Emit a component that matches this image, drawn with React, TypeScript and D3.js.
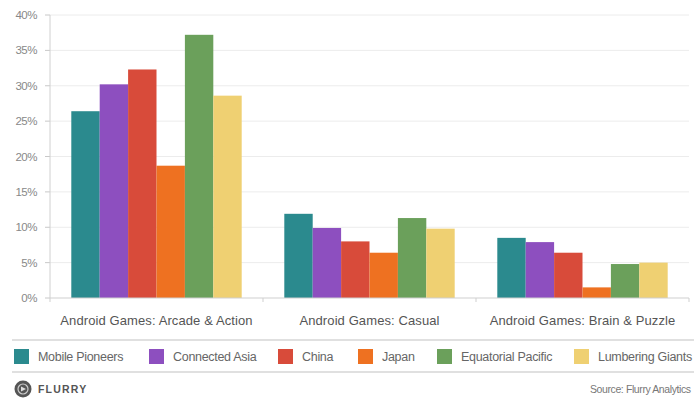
import React from "react";
import * as d3 from "d3";

const categories = [
  "Android Games: Arcade & Action",
  "Android Games: Casual",
  "Android Games: Brain & Puzzle",
];
const seriesNames = [
  "Mobile Pioneers",
  "Connected Asia",
  "China",
  "Japan",
  "Equatorial Pacific",
  "Lumbering Giants",
];
const seriesColors = ["#2b8a8e", "#8d4fbf", "#d84b3a", "#ee7121", "#6ba05b", "#efd072"];
const mobilePioneers = [26.4, 11.9, 8.5];
const connectedAsia = [30.2, 9.9, 7.9];
const china = [32.3, 8.0, 6.4];
const japan = [18.7, 6.4, 1.5];
const equatorialPacific = [37.2, 11.3, 4.8];
const lumberingGiants = [28.6, 9.8, 5.0];
const seriesValues = [mobilePioneers, connectedAsia, china, japan, equatorialPacific, lumberingGiants];
const yTicks = [0, 5, 10, 15, 20, 25, 30, 35, 40];
const legendX = [14, 149, 278, 358, 437, 574];

export default function App() {
  const W = 694;
  const H = 401;
  const left = 50;
  const right = 689;
  const top = 15;
  const bottom = 298;
  const y = d3.scaleLinear().domain([0, 40]).range([bottom, top]);
  const x0 = d3.scaleBand<string>().domain(categories).range([left, right]).padding(0);
  const bw = x0.bandwidth();
  const x1 = d3
    .scaleBand<string>()
    .domain(seriesNames)
    .range([bw * 0.1, bw * 0.9])
    .padding(0);
  const font = "'Liberation Sans', Arial, sans-serif";
  return (
    <svg
      width={W}
      height={H}
      style={{ position: "absolute", left: 0, top: 0, background: "#fff" }}
      fontFamily={font}
    >
      {yTicks.map((t) => (
        <g key={t}>
          {t > 0 && (
            <line x1={left} x2={right} y1={y(t)} y2={y(t)} stroke="#ececec" strokeWidth={1} />
          )}
          <line x1={left - 5} x2={left} y1={y(t)} y2={y(t)} stroke="#c8c8c8" />
          <text
            x={37}
            y={y(t)}
            dy="0.35em"
            textAnchor="end"
            fontSize={11.5}
            fill="#888"
            letterSpacing={-0.5}
          >
            {t}%
          </text>
        </g>
      ))}
      <line x1={left} x2={left} y1={top} y2={bottom} stroke="#d0d0d0" />
      {categories.map((c, ci) => (
        <g key={c} transform={`translate(${x0(c)},0)`}>
          {seriesNames.map((s, si) => {
            const v = seriesValues[si][ci];
            return (
              <rect
                key={s}
                x={x1(s)}
                y={y(v)}
                width={x1.bandwidth()}
                height={bottom - y(v)}
                fill={seriesColors[si]}
              />
            );
          })}
          <text
            x={bw / 2}
            y={320}
            dy="0.35em"
            textAnchor="middle"
            fontSize={13}
            fill="#555"
            letterSpacing={0.1}
          >
            {c}
          </text>
        </g>
      ))}
      <line x1={left} x2={right} y1={bottom} y2={bottom} stroke="#cfcfcf" />
      {[left, ...categories.map((c) => (x0(c) as number) + bw)].map((tx, i) => (
        <line key={i} x1={tx} x2={tx} y1={bottom} y2={bottom + 4} stroke="#cfcfcf" />
      ))}
      <line x1={12} x2={W} y1={340} y2={340} stroke="#d6d6d6" strokeWidth={1.5} />
      <line x1={12} x2={W} y1={372} y2={372} stroke="#d6d6d6" strokeWidth={1.5} />
      {seriesNames.map((s, si) => (
        <g key={s} transform={`translate(${legendX[si]},349)`}>
          <rect x={0} y={0} width={15} height={15} fill={seriesColors[si]} />
          <text x={24} y={7.5} dy="0.35em" fontSize={12.5} fill="#666" letterSpacing={-0.3}>
            {s}
          </text>
        </g>
      ))}
      <g transform="translate(23,389)">
        <circle r={8.5} fill="#555" />
        <circle r={5} fill="none" stroke="#ccc" strokeWidth={1.2} />
        <path d="M-2,-2.5 L3,0 L-2,2.5 Z" fill="#ddd" />
        <text x={15} y={0} dy="0.35em" fontSize={10.5} fontWeight="bold" fill="#555" letterSpacing={1.2}>
          FLURRY
        </text>
      </g>
      <text x={590} y={389} dy="0.35em" textAnchor="start" fontSize={10.5} fill="#777" letterSpacing={-0.4}>
        Source: Flurry Analytics
      </text>
    </svg>
  );
}
